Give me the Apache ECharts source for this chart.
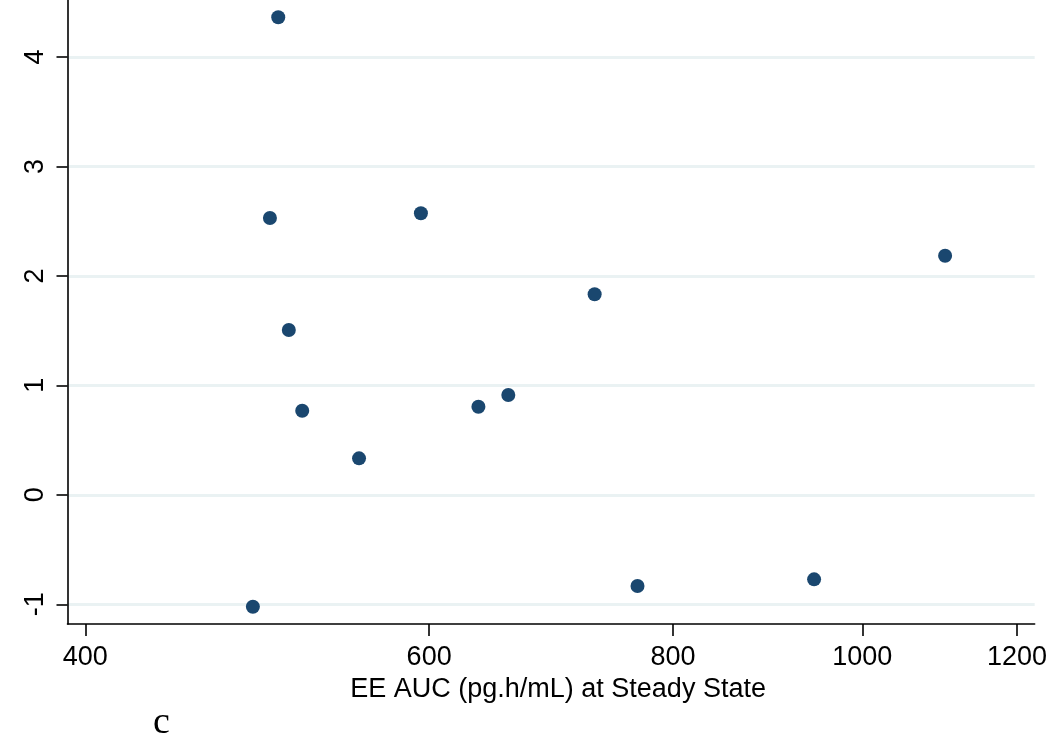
<!DOCTYPE html>
<html>
<head>
<meta charset="utf-8">
<script src="https://cdn.jsdelivr.net/npm/echarts@6/dist/echarts.min.js"></script>
<style>html,body{margin:0;padding:0;background:#fff}#c{width:1050px;height:737px}</style>
</head>
<body>
<div id="c"></div>
<script>
// EE AUC (pg.h/mL) at steady state
const xValues = [502.2, 497.3, 594.2, 729.3, 635.9, 658.7, 552.4, 1102.5, 487.4, 767.1, 944.7, 508.5, 516.6];
const yValues = [4.362, 2.529, 2.572, 1.832, 0.805, 0.912, 0.333, 2.184, -1.022, -0.833, -0.772, 1.506, 0.768];
const xTicks = [400, 600, 800, 1000, 1200];
const yTicks = [-1, 0, 1, 2, 3, 4];
const xTitle = 'EE AUC (pg.h/mL) at Steady State';
const panelLabel = 'c';

const points = xValues.map((x, i) => [x, yValues[i]]);
const font = 'Liberation Sans, Arial, sans-serif';

const chart = echarts.init(document.getElementById('c'), null, {renderer: 'canvas'});
chart.setOption({
  animation: false,
  backgroundColor: '#ffffff',
  grid: {left: 67.5, right: 13.3, top: 0, bottom: 113, containLabel: false},
  xAxis: {
    type: 'log',
    logBase: 10,
    min: 391.7,
    max: 1225.3,
    name: xTitle,
    nameLocation: 'middle',
    nameGap: 42,
    nameTextStyle: {fontFamily: font, fontSize: 27, color: '#000', padding: [0, 0, 0, 14]},
    axisLine: {show: true, onZero: false, lineStyle: {color: '#000', width: 1.6}},
    axisTick: {show: true, length: 12, lineStyle: {color: '#000', width: 1.6}, customValues: xTicks},
    axisLabel: {show: true, margin: 20, fontFamily: font, fontSize: 27, color: '#000', customValues: xTicks, formatter: v => String(Math.round(v))},
    splitLine: {show: false},
    minorTick: {show: false},
    minorSplitLine: {show: false}
  },
  yAxis: {
    type: 'value',
    min: -1.18,
    max: 4.52,
    axisLine: {show: true, onZero: false, lineStyle: {color: '#000', width: 1.6}},
    axisTick: {show: true, length: 11, lineStyle: {color: '#000', width: 1.6}, customValues: yTicks},
    axisLabel: {show: true, rotate: 90, margin: 18, fontFamily: font, fontSize: 27, color: '#000', customValues: yTicks},
    splitLine: {show: true, lineStyle: {color: '#eaf2f3', width: 3}}
  },
  series: [{
    type: 'scatter',
    data: points,
    symbol: 'circle',
    symbolSize: 14,
    itemStyle: {color: '#1a476f', opacity: 1},
    z: 5
  }],
  graphic: [{
    type: 'text',
    left: 153,
    top: 704,
    style: {text: panelLabel, font: '38px "Liberation Serif", "Times New Roman", serif', fill: '#000'}
  }]
});
</script>
</body>
</html>
